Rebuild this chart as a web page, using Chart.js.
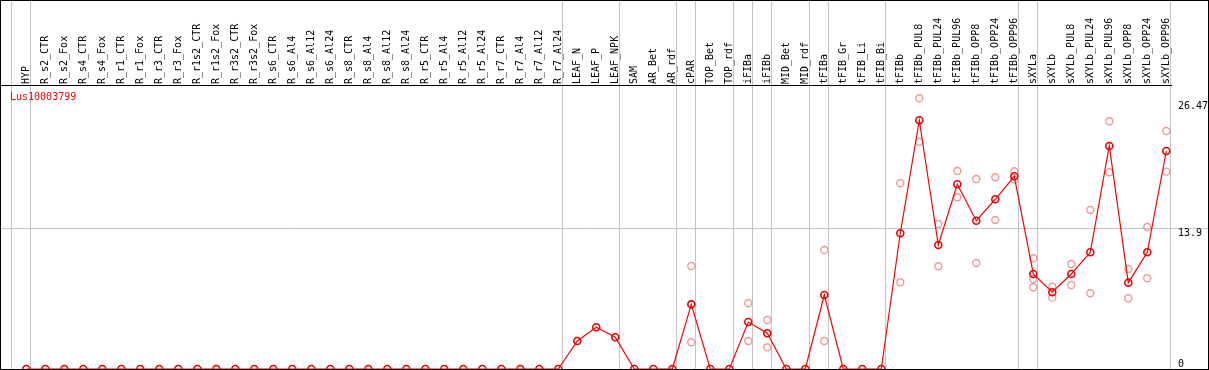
<!DOCTYPE html>
<html><head><meta charset="utf-8">
<script src="https://cdn.jsdelivr.net/npm/chart.js@4/dist/chart.umd.min.js"></script>
<style>
html,body{margin:0;padding:0;background:#fff;overflow:hidden}
#wrap{position:relative;width:1209px;height:370px}
#c{display:block}
#title{position:absolute;left:10px;top:91px;font:10px 'DejaVu Sans Mono',monospace;color:#ff0000;line-height:12px;white-space:nowrap}
</style></head><body>
<div id="wrap"><canvas id="c" width="1209" height="370"></canvas><div id="title">Lus10003799</div></div>
<script>
const categories = ["HYP","R_s2_CTR","R_s2_Fox","R_s4_CTR","R_s4_Fox","R_r1_CTR","R_r1_Fox","R_r3_CTR","R_r3_Fox","R_r1s2_CTR","R_r1s2_Fox","R_r3s2_CTR","R_r3s2_Fox","R_s6_CTR","R_s6_Al4","R_s6_Al12","R_s6_Al24","R_s8_CTR","R_s8_Al4","R_s8_Al12","R_s8_Al24","R_r5_CTR","R_r5_Al4","R_r5_Al12","R_r5_Al24","R_r7_CTR","R_r7_Al4","R_r7_Al12","R_r7_Al24","LEAF_N","LEAF_P","LEAF_NPK","SAM","AR_Bet","AR_rdf","cPAR","TOP_Bet","TOP_rdf","iFIBa","iFIBb","MID_Bet","MID_rdf","tFIBa","tFIB_Gr","tFIB_Li","tFIB_Bi","tFIBb","tFIBb_PUL8","tFIBb_PUL24","tFIBb_PUL96","tFIBb_OPP8","tFIBb_OPP24","tFIBb_OPP96","sXYLa","sXYLb","sXYLb_PUL8","sXYLb_PUL24","sXYLb_PUL96","sXYLb_OPP8","sXYLb_OPP24","sXYLb_OPP96"];

const meanValues = [0,0,0,0,0,0,0,0,0,0,0,0,0,0,0,0,0,0,0,0,0,0,0,0,0,0,0,0,0,
  2.77,4.12,3.13,0,0,0,6.39,0,0,4.64,3.53,0,0,7.31,0,0,0,
  13.41,24.58,12.25,18.25,14.65,16.77,19.04,
  9.39,7.58,9.39,11.53,22.04,8.53,11.53,21.54];

const rep1 = [null,null,null,null,null,null,null,null,null,null,null,null,null,null,null,null,null,null,null,null,null,null,null,null,null,null,null,null,null,
  null,null,null,null,null,null,10.18,null,null,6.49,4.84,null,null,11.76,null,null,null,
  18.35,26.75,14.33,19.57,18.77,18.94,19.54,
  10.94,8.13,10.38,15.71,24.48,9.88,14.03,23.52];

const rep2 = [null,null,null,null,null,null,null,null,null,null,null,null,null,null,null,null,null,null,null,null,null,null,null,null,null,null,null,null,null,
  null,null,null,null,null,null,2.64,null,null,2.77,2.14,null,null,2.77,null,null,null,
  8.57,22.46,10.15,16.97,10.47,14.72,18.71,
  8.89,7.05,8.30,7.48,19.44,6.99,8.96,19.50];

const rep3 = [null,null,null,null,null,null,null,null,null,null,null,null,null,null,null,null,null,null,null,null,null,null,null,null,null,null,null,null,null,
  null,null,null,null,null,null,null,null,null,null,null,null,null,null,null,null,null,
  null,null,null,null,null,null,null,
  8.07,null,null,null,null,null,null,null];

const yTickValues = [0, 13.9, 26.47];
const groupEnds = [-1, 0, 28, 31, 34, 35, 37, 38, 39, 41, 42, 45, 52, 53, 60];

const FONT = {family: "'DejaVu Sans Mono', monospace", size: 10};
const SEP_OFFSET = 0.22;
const TRANSPARENT = 'rgba(0,0,0,0)';

function toXY(arr) {
  return arr.map((v, i) => ({x: i, y: v}));
}

const framePlugin = {
  id: 'frame',
  afterDraw(chart) {
    const c = chart.ctx;
    c.save();
    c.strokeStyle = '#000';
    c.lineWidth = 1;
    c.strokeRect(0.5, 0.5, 1208, 369);
    c.restore();
  }
};

new Chart(document.getElementById('c'), {
  type: 'line',
  data: {
    datasets: [
      {
        data: toXY(meanValues),
        borderColor: '#ff0000',
        borderWidth: 1.2,
        pointBorderColor: '#ee0000',
        pointBackgroundColor: TRANSPARENT,
        pointRadius: 3.5,
        pointBorderWidth: 1.6,
        tension: 0
      },
      {
        data: toXY(rep1), showLine: false,
        pointBorderColor: '#f09898', pointBackgroundColor: TRANSPARENT,
        pointRadius: 3.5, pointBorderWidth: 1.4
      },
      {
        data: toXY(rep2), showLine: false,
        pointBorderColor: '#f09898', pointBackgroundColor: TRANSPARENT,
        pointRadius: 3.5, pointBorderWidth: 1.4
      },
      {
        data: toXY(rep3), showLine: false,
        pointBorderColor: '#f09898', pointBackgroundColor: TRANSPARENT,
        pointRadius: 3.5, pointBorderWidth: 1.4
      }
    ]
  },
  options: {
    responsive: false,
    animation: false,
    devicePixelRatio: 1,
    layout: {autoPadding: false, padding: {left: 0, right: 0, top: 0, bottom: 1}},
    plugins: {legend: {display: false}, tooltip: {enabled: false}, title: {display: false}},
    scales: {
      x: {
        type: 'linear',
        position: 'top',
        bounds: 'data',
        min: -1.3842,
        max: 60.2474,
        afterBuildTicks(scale) {
          const t = categories.map((c, i) => ({value: i}));
          groupEnds.forEach(g => t.push({value: g + SEP_OFFSET, sep: true}));
          t.sort((a, b) => a.value - b.value);
          scale.ticks = t;
        },
        afterFit(scale) { scale.height = 85; },
        ticks: {
          autoSkip: false,
          maxRotation: 90,
          minRotation: 90,
          padding: -84,
          labelOffset: 12,
          font: FONT,
          color: '#000',
          callback(value) {
            return Number.isInteger(value) ? categories[value] : '';
          }
        },
        grid: {
          color: ctx => (ctx.tick && ctx.tick.sep) ? '#c4c4c4' : TRANSPARENT,
          tickLength: 85,
          lineWidth: 1
        },
        border: {display: true, color: '#000', width: 1}
      },
      y: {
        type: 'linear',
        position: 'right',
        min: 0,
        max: 28.06,
        afterBuildTicks(scale) {
          scale.ticks = yTickValues.map(v => ({value: v}));
        },
        afterFit(scale) { scale.width = 38; },
        ticks: {
          padding: -30,
          font: {family: "'DejaVu Sans Mono', monospace", size: 10, lineHeight: '10px'},
          color: '#000',
          callback(value) {
            return value === 0 ? ['0', ''] : ['', String(value)];
          }
        },
        grid: {
          color: ctx => (ctx.tick && ctx.tick.value === 13.9) ? '#c4c4c4' : TRANSPARENT,
          tickLength: 37,
          lineWidth: 1
        },
        border: {display: false}
      }
    }
  },
  plugins: [framePlugin]
});
</script>
</body></html>
